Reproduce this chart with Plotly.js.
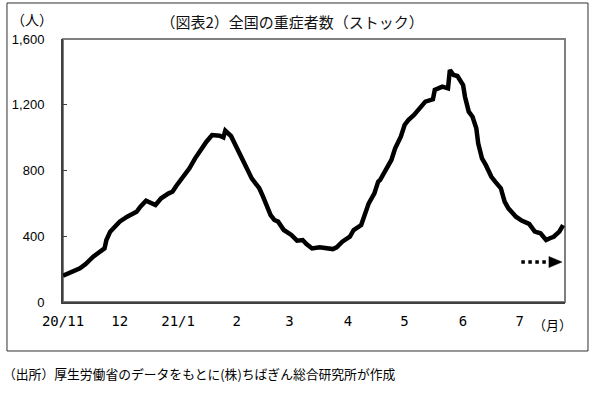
<!DOCTYPE html>
<html>
<head>
<meta charset="utf-8">
<script src="https://cdn.plot.ly/plotly-3.0.1.min.js"></script>
<style>
html,body{margin:0;padding:0;background:#fff;}
#chart{width:601px;height:398px;}
</style>
</head>
<body>
<div id="chart"></div>
<script>
// Data (national count of severe COVID-19 cases, stock)
const dates = [
  '2020-11-01','2020-11-07','2020-11-10','2020-11-13','2020-11-17','2020-11-23','2020-11-24','2020-11-26',
  '2020-12-01','2020-12-05','2020-12-10','2020-12-12','2020-12-15','2020-12-20','2020-12-23','2020-12-27',
  '2020-12-29','2020-12-31','2021-01-03','2021-01-07','2021-01-10','2021-01-14','2021-01-16','2021-01-19',
  '2021-01-23','2021-01-25','2021-01-26','2021-01-29','2021-01-31','2021-02-03','2021-02-06','2021-02-09',
  '2021-02-13','2021-02-15','2021-02-17','2021-02-19','2021-02-21','2021-02-23','2021-02-26','2021-03-02',
  '2021-03-05','2021-03-08','2021-03-10','2021-03-13','2021-03-17','2021-03-20','2021-03-24','2021-03-26',
  '2021-03-29','2021-04-02','2021-04-04','2021-04-08','2021-04-10','2021-04-12','2021-04-15','2021-04-17',
  '2021-04-18','2021-04-21','2021-04-24','2021-04-26','2021-04-29','2021-05-01','2021-05-03','2021-05-06',
  '2021-05-09','2021-05-12','2021-05-16','2021-05-17','2021-05-21','2021-05-24','2021-05-25','2021-05-27',
  '2021-05-29','2021-06-01','2021-06-02','2021-06-04','2021-06-06','2021-06-08','2021-06-09','2021-06-11',
  '2021-06-13','2021-06-16','2021-06-18','2021-06-21','2021-06-23','2021-06-25','2021-06-29','2021-07-02',
  '2021-07-06','2021-07-09','2021-07-12','2021-07-15','2021-07-17','2021-07-19','2021-07-22','2021-07-24'
];
const severeCases = [
  160,190,205,231,276,326,377,428,
  489,519,549,580,616,590,631,661,
  671,706,752,813,874,945,975,1016,
  1012,1002,1042,1010,965,905,823,752,
  692,641,580,529,499,489,438,408,
  373,377,353,326,333,326,322,333,
  367,397,438,468,529,600,661,732,
  742,803,864,935,1006,1077,1107,1138,
  1178,1219,1233,1290,1310,1300,1411,1381,
  1375,1320,1249,1158,1127,1057,965,874,
  834,762,732,692,610,570,519,495,
  475,428,418,377,388,397,428,468
];
const xTickVals = ['2020-11-01','2020-12-01','2021-01-01','2021-02-01','2021-03-01','2021-04-01','2021-05-01','2021-06-01','2021-07-01'];
const xTickText = ['20/11','12','21/1','2','3','4','5','6','7'];
const yTickVals = [0,400,800,1200,1600];
const yTickText = ['0','400','800','1,200','1,600'];
const xRange = ['2020-11-01','2021-07-25'];
const yRange = [0,1600];

const titleText = '（図表2）全国の重症者数（ストック）';
const yUnit = '（人）';
const xUnit = '（月）';
const sourceNote = '（出所）厚生労働省のデータをもとに(株)ちばぎん総合研究所が作成';

const cjk = '"Noto Sans CJK JP", "Noto Sans", sans-serif';

const trace = {
  x: dates, y: severeCases, type: 'scatter', mode: 'lines',
  line: {color: '#000000', width: 4.5},
  hoverinfo: 'skip', showlegend: false
};

const layout = {
  width: 601, height: 398,
  margin: {l: 63, r: 36, t: 39, b: 96, pad: 0},
  paper_bgcolor: '#ffffff', plot_bgcolor: '#ffffff',
  showlegend: false,
  title: {
    text: titleText, x: 0.486, xanchor: 'center', y: 0.942, yanchor: 'middle',
    font: {family: cjk, size: 15, color: '#111111'}
  },
  xaxis: {
    type: 'date', range: xRange, tickmode: 'array', tickvals: xTickVals, ticktext: xTickText,
    ticks: '', showgrid: false, zeroline: false,
    showline: true, linecolor: '#404040', linewidth: 2,
    tickfont: {family: '"DejaVu Sans Mono", monospace', size: 14, color: '#000000'},
    ticklabelstandoff: 5
  },
  yaxis: {
    range: yRange, tickmode: 'array', tickvals: yTickVals, ticktext: yTickText,
    ticks: 'inside', ticklen: 4, tickwidth: 1, tickcolor: '#404040',
    showgrid: false, zeroline: false,
    showline: true, linecolor: '#404040', linewidth: 2,
    tickfont: {family: '"Liberation Sans", Arial, sans-serif', size: 13, color: '#000000'},
    ticklabelstandoff: 14
  },
  shapes: [
    {type: 'rect', xref: 'paper', yref: 'paper', x0: 0, x1: 1, y0: 0, y1: 1,
     line: {color: '#7f7f7f', width: 2}, layer: 'below'},
    {type: 'rect', xref: 'paper', yref: 'paper', x0: -0.1116, x1: 1.0458, y0: -0.1863, y1: 1.1369,
     line: {color: '#303030', width: 1}, layer: 'below'},
    {type: 'line', xref: 'paper', yref: 'paper', x0: 0.913, x1: 0.968, y0: 0.152, y1: 0.152,
     line: {color: '#000000', width: 3.5, dash: 'dot'}},
    {type: 'path', xref: 'paper', yref: 'paper', path: 'M0.968,0.173 L0.994,0.152 L0.968,0.131 Z',
     fillcolor: '#000000', line: {color: '#000000', width: 0.5}}
  ],
  annotations: [
    {text: yUnit, xref: 'paper', yref: 'paper', x: -0.062, y: 1.076, xanchor: 'center', yanchor: 'middle',
     showarrow: false, font: {family: cjk, size: 14, color: '#000000'}},
    {text: xUnit, xref: 'paper', yref: 'paper', x: 0.976, y: -0.084, xanchor: 'center', yanchor: 'middle',
     showarrow: false, font: {family: cjk, size: 13, color: '#000000'}},
    {text: sourceNote, xref: 'paper', yref: 'paper', x: -0.1235, y: -0.272, xanchor: 'left', yanchor: 'middle',
     showarrow: false, font: {family: cjk, size: 12.8, color: '#000000'}}
  ]
};

Plotly.newPlot('chart', [trace], layout, {staticPlot: true, displayModeBar: false});
</script>
</body>
</html>
